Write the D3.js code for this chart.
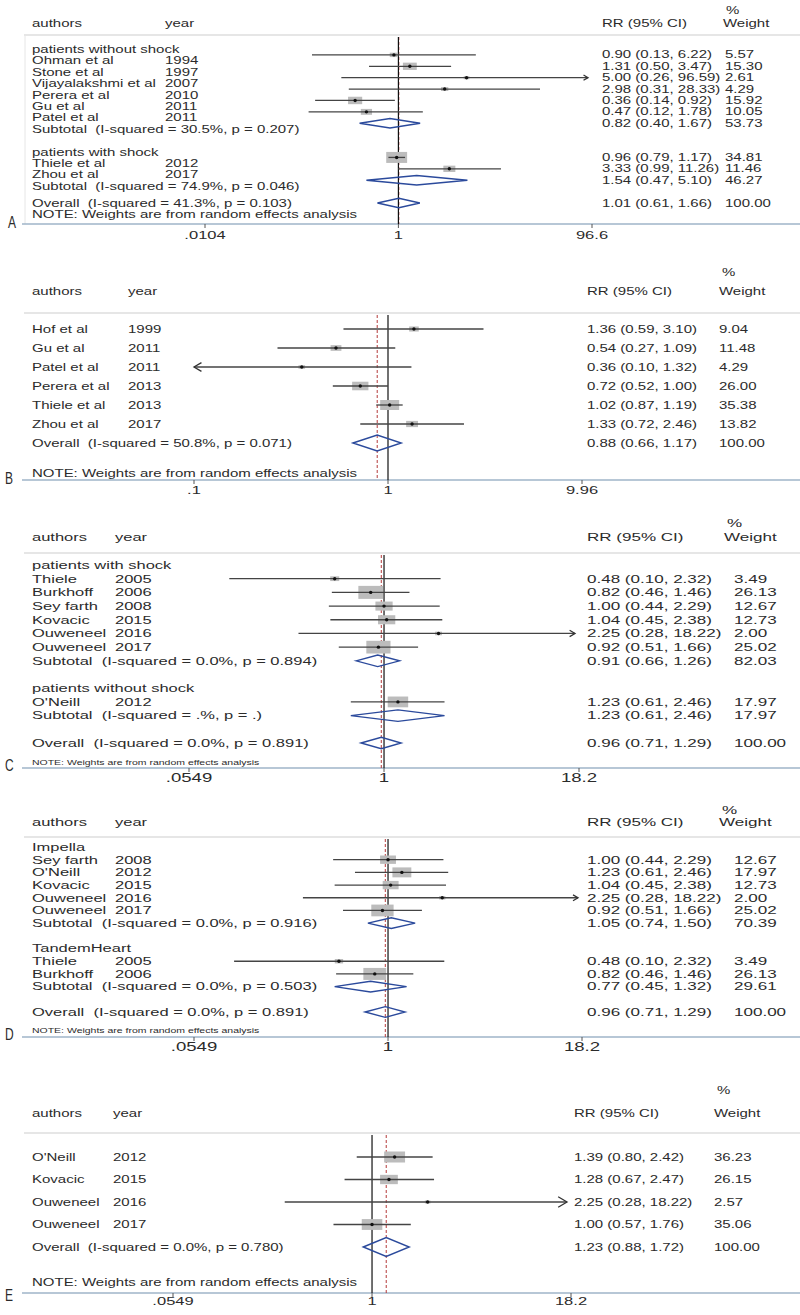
<!DOCTYPE html>
<html>
<head>
<meta charset="utf-8">
<script src="https://cdn.jsdelivr.net/npm/d3@7"></script>
<style>
  body { margin: 0; background: #fff; }
  svg text { font-family: "Liberation Sans", Arial, sans-serif; fill: #2b2b2b; white-space: pre; }
</style>
</head>
<body>
<svg id="fig" width="800" height="1315"></svg>
<script>
// ---- panel A : with / without shock ----
const A_label = ["patients without shock", "Ohman et al", "Stone et al", "Vijayalakshmi et al", "Perera et al", "Gu et al", "Patel et al",
  "Subtotal  (I-squared = 30.5%, p = 0.207)", "", "patients with shock", "Thiele et al", "Zhou et al",
  "Subtotal  (I-squared = 74.9%, p = 0.046)", "", "Overall  (I-squared = 41.3%, p = 0.103)"];
const A_year = ["", "1994", "1997", "2007", "2010", "2011", "2011", "", "", "", "2012", "2017", "", "", ""];
const A_kind = ["g", "s", "s", "s", "s", "s", "s", "t", "b", "g", "s", "s", "t", "b", "o"];
const A_est = [null, 0.90, 1.31, 5.00, 2.98, 0.36, 0.47, 0.82, null, null, 0.96, 3.33, 1.54, null, 1.01];
const A_lo  = [null, 0.13, 0.50, 0.26, 0.31, 0.14, 0.12, 0.40, null, null, 0.79, 0.99, 0.47, null, 0.61];
const A_hi  = [null, 6.22, 3.47, 96.59, 28.33, 0.92, 1.78, 1.67, null, null, 1.17, 11.26, 5.10, null, 1.66];
const A_wt  = [null, 5.57, 15.30, 2.61, 4.29, 15.92, 10.05, 53.73, null, null, 34.81, 11.46, 46.27, null, 100.00];
const A_ticks = [0.0104, 1, 96.6];
const A_tickLabels = [".0104", "1", "96.6"];

// ---- panel B ----
const B_label = ["Hof et al", "Gu et al", "Patel et al", "Perera et al", "Thiele et al", "Zhou et al",
  "Overall  (I-squared = 50.8%, p = 0.071)"];
const B_year = ["1999", "2011", "2011", "2013", "2013", "2017", ""];
const B_kind = ["s", "s", "s", "s", "s", "s", "o"];
const B_est = [1.36, 0.54, 0.36, 0.72, 1.02, 1.33, 0.88];
const B_lo  = [0.59, 0.27, 0.10, 0.52, 0.87, 0.72, 0.66];
const B_hi  = [3.10, 1.09, 1.32, 1.00, 1.19, 2.46, 1.17];
const B_wt  = [9.04, 11.48, 4.29, 26.00, 35.38, 13.82, 100.00];
const B_ticks = [0.1004, 1, 9.96];
const B_tickLabels = [".1", "1", "9.96"];

// ---- panel C ----
const C_label = ["patients with shock", "Thiele", "Burkhoff", "Sey farth", "Kovacic", "Ouweneel", "Ouweneel",
  "Subtotal  (I-squared = 0.0%, p = 0.894)", "", "patients without shock", "O'Neill",
  "Subtotal  (I-squared = .%, p = .)", "", "Overall  (I-squared = 0.0%, p = 0.891)"];
const C_year = ["", "2005", "2006", "2008", "2015", "2016", "2017", "", "", "", "2012", "", "", ""];
const C_kind = ["g", "s", "s", "s", "s", "s", "s", "t", "b", "g", "s", "t", "b", "o"];
const C_est = [null, 0.48, 0.82, 1.00, 1.04, 2.25, 0.92, 0.91, null, null, 1.23, 1.23, null, 0.96];
const C_lo  = [null, 0.10, 0.46, 0.44, 0.45, 0.28, 0.51, 0.66, null, null, 0.61, 0.61, null, 0.71];
const C_hi  = [null, 2.32, 1.46, 2.29, 2.38, 18.22, 1.66, 1.26, null, null, 2.46, 2.46, null, 1.29];
const C_wt  = [null, 3.49, 26.13, 12.67, 12.73, 2.00, 25.02, 82.03, null, null, 17.97, 17.97, null, 100.00];
const C_ticks = [0.0549, 1, 18.2];
const C_tickLabels = [".0549", "1", "18.2"];

// ---- panel D ----
const D_label = ["Impella", "Sey farth", "O'Neill", "Kovacic", "Ouweneel", "Ouweneel",
  "Subtotal  (I-squared = 0.0%, p = 0.916)", "", "TandemHeart", "Thiele", "Burkhoff",
  "Subtotal  (I-squared = 0.0%, p = 0.503)", "", "Overall  (I-squared = 0.0%, p = 0.891)"];
const D_year = ["", "2008", "2012", "2015", "2016", "2017", "", "", "", "2005", "2006", "", "", ""];
const D_kind = ["g", "s", "s", "s", "s", "s", "t", "b", "g", "s", "s", "t", "b", "o"];
const D_est = [null, 1.00, 1.23, 1.04, 2.25, 0.92, 1.05, null, null, 0.48, 0.82, 0.77, null, 0.96];
const D_lo  = [null, 0.44, 0.61, 0.45, 0.28, 0.51, 0.74, null, null, 0.10, 0.46, 0.45, null, 0.71];
const D_hi  = [null, 2.29, 2.46, 2.38, 18.22, 1.66, 1.50, null, null, 2.32, 1.46, 1.32, null, 1.29];
const D_wt  = [null, 12.67, 17.97, 12.73, 2.00, 25.02, 70.39, null, null, 3.49, 26.13, 29.61, null, 100.00];
const D_ticks = [0.0549, 1, 18.2];
const D_tickLabels = [".0549", "1", "18.2"];

// ---- panel E ----
const E_label = ["O'Neill", "Kovacic", "Ouweneel", "Ouweneel", "Overall  (I-squared = 0.0%, p = 0.780)"];
const E_year = ["2012", "2015", "2016", "2017", ""];
const E_kind = ["s", "s", "s", "s", "o"];
const E_est = [1.39, 1.28, 2.25, 1.00, 1.23];
const E_lo  = [0.80, 0.67, 0.28, 0.57, 0.88];
const E_hi  = [2.42, 2.47, 18.22, 1.76, 1.72];
const E_wt  = [36.23, 26.15, 2.57, 35.06, 100.00];
const E_ticks = [0.0549, 1, 18.2];
const E_tickLabels = [".0549", "1", "18.2"];

const NOTE = "NOTE: Weights are from random effects analysis";

// layout of each panel (positions only)
const panels = [
  { id: "A", label: A_label, year: A_year, kind: A_kind, est: A_est, lo: A_lo, hi: A_hi, wt: A_wt,
    ticks: A_ticks, tickLabels: A_tickLabels, xr: [205, 592], yr: [43.5, 203], pctY: 10, headY: 23,
    sepY: 35, axisY: 224, tickY: 235, noteY: 214, noteFs: 10, letterY: 222, fs: 10,
    xYear: 165, xRR: 602, xWt: 725, xWtHead: 723, labelDy: 6, boxMax: 11, frame: true },
  { id: "B", label: B_label, year: B_year, kind: B_kind, est: B_est, lo: B_lo, hi: B_hi, wt: B_wt,
    ticks: B_ticks, tickLabels: B_tickLabels, xr: [194, 582], yr: [329, 443], pctY: 272, headY: 291,
    sepY: 313, axisY: 480, tickY: 490, noteY: 473, noteFs: 10, letterY: 478, fs: 10,
    xYear: 128, xRR: 587, xWt: 719, xWtHead: 719, labelDy: 0, boxMax: 10 },
  { id: "C", label: C_label, year: C_year, kind: C_kind, est: C_est, lo: C_lo, hi: C_hi, wt: C_wt,
    ticks: C_ticks, tickLabels: C_tickLabels, xr: [189, 579], yr: [565, 743], pctY: 523, headY: 537,
    sepY: 553, axisY: 768, tickY: 778, noteY: 763, noteFs: 7, letterY: 765, fs: 11,
    xYear: 115, xRR: 587, xWt: 734, xWtHead: 724, labelDy: 0, boxMax: 13 },
  { id: "D", label: D_label, year: D_year, kind: D_kind, est: D_est, lo: D_lo, hi: D_hi, wt: D_wt,
    ticks: D_ticks, tickLabels: D_tickLabels, xr: [194, 582], yr: [847, 1012], pctY: 810, headY: 822,
    sepY: 837, axisY: 1037, tickY: 1047, noteY: 1031, noteFs: 7, letterY: 1034, fs: 11,
    xYear: 115, xRR: 587, xWt: 734, xWtHead: 719, labelDy: 0, boxMax: 12 },
  { id: "E", label: E_label, year: E_year, kind: E_kind, est: E_est, lo: E_lo, hi: E_hi, wt: E_wt,
    ticks: E_ticks, tickLabels: E_tickLabels, xr: [173, 571], yr: [1157, 1247], pctY: 1090, headY: 1113,
    sepY: 1133, axisY: 1293, tickY: 1301, noteY: 1282, noteFs: 10, letterY: 1295, fs: 10,
    xYear: 113, xRR: 574, xWt: 714, xWtHead: 714, labelDy: 0, boxMax: 11 }
];

const SX = 1.5;   // the figure text is stretched sideways
const f2 = d3.format(".2f");
const svg = d3.select("#fig");

// stretched text helper
function stxt(g, x, y, s, fs, anchor, sx) {
  return g.append("text")
    .attr("transform", `translate(${x},${y}) scale(${sx || SX},1)`)
    .attr("dy", "0.35em")
    .attr("font-size", fs)
    .attr("text-anchor", anchor || "start")
    .attr("xml:space", "preserve")
    .text(s);
}

function drawPanel(p) {
  const g = svg.append("g").attr("class", "panel-" + p.id);
  const n = p.label.length;
  const x = d3.scaleLog().domain([p.ticks[0], p.ticks[2]]).range(p.xr);
  const y = d3.scaleLinear().domain([0, n - 1]).range(p.yr);
  const studyW = p.wt.filter((w, i) => p.kind[i] === "s");
  const box = d3.scaleSqrt().domain([0, d3.max(studyW)]).range([0, p.boxMax]);
  const step = (p.yr[1] - p.yr[0]) / (n - 1);
  const dh = step * 0.42;
  const sxRight = p.fs > 10 ? 1.55 : SX;

  // header
  stxt(g, p.xWtHead + 3, p.pctY, "%", p.fs, "start", sxRight);
  stxt(g, 32, p.headY, "authors", p.fs);
  stxt(g, p.xYear, p.headY, "year", p.fs);
  stxt(g, p.xRR, p.headY, "RR (95% CI)", p.fs, "start", sxRight);
  stxt(g, p.xWtHead, p.headY, "Weight", p.fs, "start", sxRight);

  g.append("line").attr("x1", 24).attr("x2", 800).attr("y1", p.sepY).attr("y2", p.sepY)
    .attr("stroke", "#dedede").attr("stroke-width", 1.5);
  if (p.frame) {
    g.append("line").attr("x1", 25).attr("x2", 25).attr("y1", p.sepY).attr("y2", p.axisY)
      .attr("stroke", "#e6e6e6").attr("stroke-width", 1);
  }

  // axis
  g.append("line").attr("x1", 22).attr("x2", 800).attr("y1", p.axisY).attr("y2", p.axisY)
    .attr("stroke", "#9fb5c8").attr("stroke-width", 1.6);
  p.ticks.forEach((t, i) => {
    g.append("line").attr("x1", x(t)).attr("x2", x(t)).attr("y1", p.axisY).attr("y2", p.axisY + 4)
      .attr("stroke", "#555").attr("stroke-width", 1);
    stxt(g, x(t), p.tickY, p.tickLabels[i], p.fs + 1, "middle", sxRight);
  });

  // overall estimate line (red dashed), then the null line on top
  const oi = p.kind.indexOf("o");
  g.append("line").attr("x1", x(p.est[oi])).attr("x2", x(p.est[oi]))
    .attr("y1", p.sepY + 2).attr("y2", p.axisY)
    .attr("stroke", "#b43a3a").attr("stroke-width", 1).attr("stroke-dasharray", "3,2");
  g.append("line").attr("x1", x(1)).attr("x2", x(1)).attr("y1", p.sepY + 2).attr("y2", p.axisY)
    .attr("stroke", "#111").attr("stroke-width", 1.2);

  // rows
  p.kind.forEach((k, i) => {
    const yy = y(i);
    const ly = k === "o" ? yy : yy + p.labelDy;
    if (p.label[i]) stxt(g, 32, ly, p.label[i], p.fs);
    if (p.year[i]) stxt(g, p.xYear, ly, p.year[i], p.fs);
    if (p.est[i] == null) return;

    stxt(g, p.xRR, yy, `${f2(p.est[i])} (${f2(p.lo[i])}, ${f2(p.hi[i])})`, p.fs, "start", sxRight);
    stxt(g, p.xWt, yy, f2(p.wt[i]), p.fs, "start", sxRight);

    if (k === "s") {
      const h = box(p.wt[i]), w = h * 1.9;
      g.append("rect").attr("x", x(p.est[i]) - w / 2).attr("y", yy - h / 2)
        .attr("width", w).attr("height", h).attr("fill", "#bcbcbc");
      const lcut = p.lo[i] <= p.ticks[0] * 1.001;
      const rcut = p.hi[i] >= p.ticks[2] * 0.999;
      const x0 = lcut ? p.xr[0] : x(p.lo[i]);
      const x1 = rcut ? p.xr[1] - 4 : x(p.hi[i]);
      g.append("line").attr("x1", x0).attr("x2", x1).attr("y1", yy).attr("y2", yy)
        .attr("stroke", "#444").attr("stroke-width", 1.3);
      const ah = dh * 0.55, aw = ah * 1.7;
      if (rcut) {
        g.append("path").attr("d", `M${x1 - aw},${yy - ah}L${x1},${yy}L${x1 - aw},${yy + ah}`)
          .attr("fill", "none").attr("stroke", "#333").attr("stroke-width", 1.3);
      }
      if (lcut) {
        g.append("path").attr("d", `M${x0 + aw},${yy - ah}L${x0},${yy}L${x0 + aw},${yy + ah}`)
          .attr("fill", "none").attr("stroke", "#333").attr("stroke-width", 1.3);
      }
      g.append("circle").attr("cx", x(p.est[i])).attr("cy", yy).attr("r", 1.7).attr("fill", "#111");
    } else {
      // pooled estimate diamond
      const pts = [[x(p.lo[i]), yy], [x(p.est[i]), yy - dh], [x(p.hi[i]), yy], [x(p.est[i]), yy + dh]];
      g.append("path").attr("d", d3.line()(pts) + "Z")
        .attr("fill", "none").attr("stroke", "#2b4a9c").attr("stroke-width", 1.4);
    }
  });

  stxt(g, 32, p.noteY, NOTE, p.noteFs);

  // panel letter
  g.append("text").attr("transform", `translate(${p.id === "A" ? 8 : 5},${p.letterY}) scale(0.8,1.15)`)
    .attr("dy", "0.35em").attr("font-size", 15).attr("fill", "#222").text(p.id);
}

panels.forEach(drawPanel);
</script>
</body>
</html>
